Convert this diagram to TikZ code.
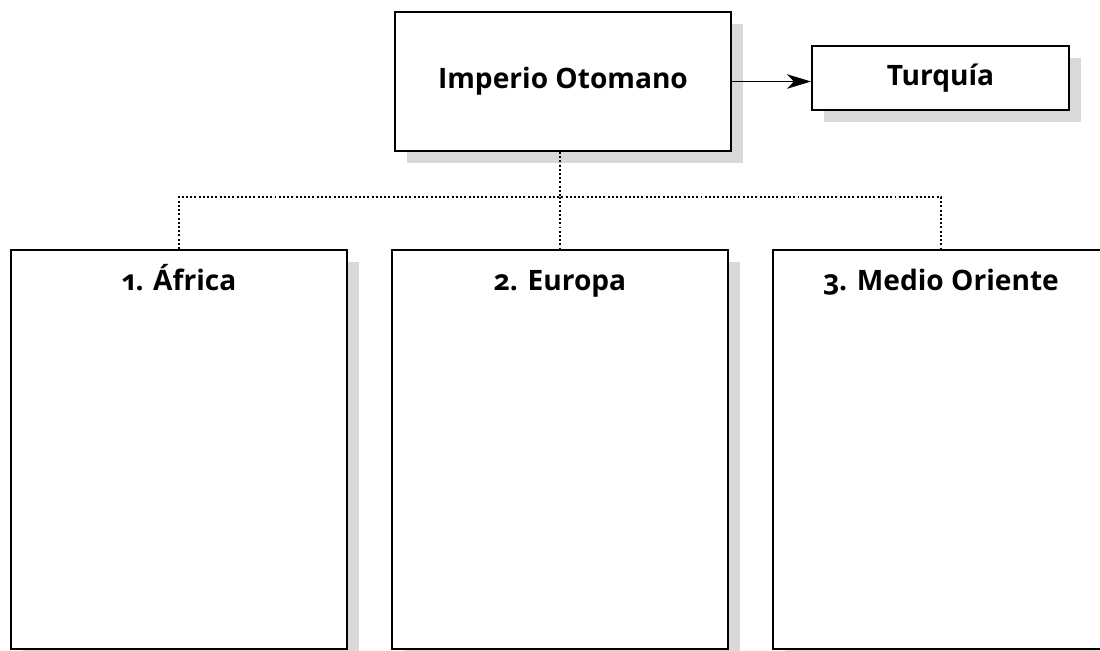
\documentclass[tikz,border=0pt]{standalone}
\usepackage{fontspec}
\setmainfont{Open Sans}[Numbers=OldStyle]
\usetikzlibrary{arrows.meta, positioning, calc, shadows}
\definecolor{shadowgray}{RGB}{217,217,217}

\tikzset{
  box/.style={draw, line width=1.3pt, fill=white, rectangle,
    drop shadow={shadow xshift=0.3cm, shadow yshift=-0.3cm, fill=shadowgray, opacity=1},
    font=\fontsize{20}{24}\selectfont\bfseries},
  bigbox/.style={box, minimum width=8.4cm, minimum height=9.975cm},
  boxtitle/.style={anchor=base, font=\fontsize{20}{24}\selectfont\bfseries},
  link/.style={line width=1.3pt, dash pattern=on 1.4pt off 1.6pt}
}

\begin{document}
\begin{tikzpicture}
  \useasboundingbox (0,0) rectangle (27.5,-16.275);

  % top boxes
  \node[box, minimum width=8.4cm, minimum height=3.475cm] (imperio) at (14.075,-2.0375) {Imperio Otomano};
  \node[box, minimum width=6.425cm, minimum height=1.6cm] (turquia) at (23.5125,-1.95) {Turquía};
  \draw[line width=1.1pt, -{Stealth[length=0.6cm, width=0.36cm, inset=0.17cm]}] (imperio.east) -- (imperio.east -| turquia.west);

  % regions
  \node[bigbox] (africa) at (4.475,-11.2375) {};
  \node[bigbox] (europa) at (14.0,-11.2375) {};
  \node[bigbox] (oriente) at (23.525,-11.2375) {};
  \node[boxtitle] (tafrica) at ([yshift=-1.025cm]africa.north) {1. África};
  \node[boxtitle] (teuropa) at ([yshift=-1.025cm]europa.north) {2. Europa};
  \node[boxtitle] (toriente) at ([yshift=-1.025cm]oriente.north) {3. Medio Oriente};

  % dotted tree
  \coordinate (split) at (14.0,-4.925);
  \draw[link] (imperio.south -| split) -- (split);
  \draw[link] (africa.north) |- (split) -| (oriente.north);
  \draw[link] (split) -- (europa.north);
\end{tikzpicture}
\end{document}
